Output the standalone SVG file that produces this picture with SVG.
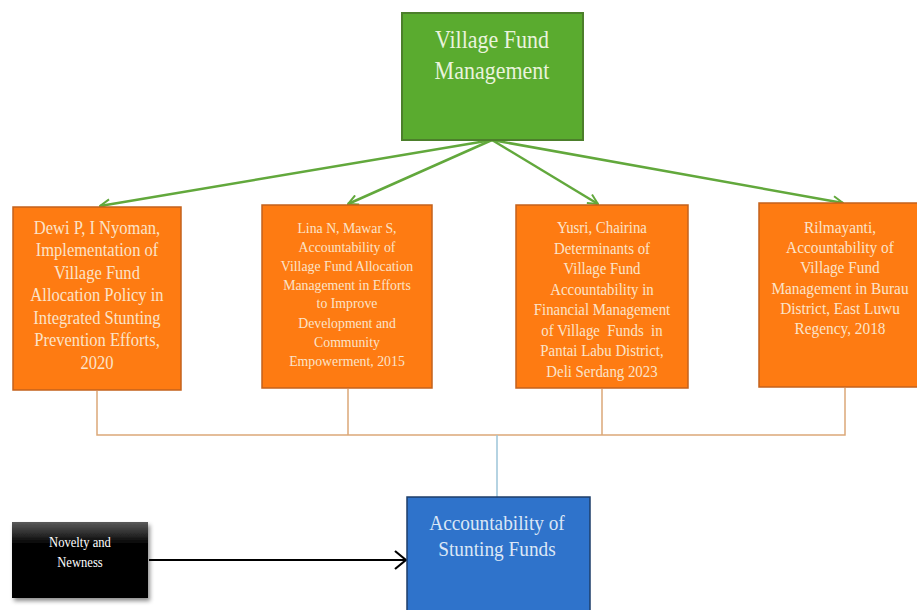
<svg xmlns="http://www.w3.org/2000/svg" width="917" height="610" viewBox="0 0 917 610">
<style>
.t{font-family:"Liberation Serif","Times New Roman",serif;text-anchor:middle}
.ob{fill:#fe7b12;stroke:#c4621c;stroke-width:1.5}
.ot{fill:#fbe3c9}
.g{stroke:#62a83c;stroke-width:2.5;fill:none}
.br{stroke:#dba878;stroke-width:1.5;fill:none}
</style>
<defs>
<marker id="ga" viewBox="0 0 12 12" refX="11" refY="6" markerWidth="12" markerHeight="12" markerUnits="userSpaceOnUse" orient="auto"><path d="M1,1 L11,6 L1,11" fill="none" stroke="#62a83c" stroke-width="2"/></marker>
<marker id="ba" viewBox="0 0 14 20" refX="13" refY="10" markerWidth="14" markerHeight="20" markerUnits="userSpaceOnUse" orient="auto"><path d="M2,1 L13,10 L2,19" fill="none" stroke="#000" stroke-width="2.2"/></marker>
<linearGradient id="bk" x1="0" y1="0" x2="0" y2="1"><stop offset="0" stop-color="#5a5a5a"/><stop offset="0.3" stop-color="#000"/><stop offset="1" stop-color="#000"/></linearGradient>
<filter id="sh" x="-10%" y="-10%" width="130%" height="130%"><feDropShadow dx="2" dy="3" stdDeviation="2" flood-opacity="0.45"/></filter>
</defs>
<rect width="917" height="610" fill="#fff"/>
<g id="connectors">
<line class="g" x1="492" y1="140" x2="100" y2="206" marker-end="url(#ga)"/>
<line class="g" x1="492" y1="140" x2="348" y2="204" marker-end="url(#ga)"/>
<line class="g" x1="492" y1="140" x2="598" y2="204" marker-end="url(#ga)"/>
<line class="g" x1="492" y1="140" x2="843" y2="203" marker-end="url(#ga)"/>
<path class="br" d="M97,391 V435 H845 V388 M348,389 V435 M602,389 V435"/>
<line x1="497" y1="435" x2="497" y2="497" stroke="#9cc4d8" stroke-width="1.5"/>
<line x1="149" y1="560" x2="406" y2="560" stroke="#000" stroke-width="2.2" marker-end="url(#ba)"/>
</g>
<g id="village-fund-management">
<rect x="402" y="13" width="181" height="127" fill="#5aab2f" stroke="#4c7f2b" stroke-width="2"/>
<text class="t" font-size="25" fill="#e9f3dc" transform="matrix(0.88,0,0,1,59.04,0)"><tspan x="492" y="48">Village Fund</tspan><tspan x="492" y="79">Management</tspan></text>
</g>
<g id="dewi">
<rect class="ob" x="13" y="207" width="168" height="183"/>
<text class="t ot" font-size="18" transform="matrix(0.92,0,0,1,7.76,0)"><tspan x="97" y="234">Dewi P, I Nyoman,</tspan><tspan x="97" y="256">Implementation of</tspan><tspan x="97" y="279">Village Fund</tspan><tspan x="97" y="301">Allocation Policy in</tspan><tspan x="97" y="324">Integrated Stunting</tspan><tspan x="97" y="346">Prevention Efforts,</tspan><tspan x="97" y="369">2020</tspan></text>
</g>
<g id="lina">
<rect class="ob" x="262" y="205" width="170" height="183"/>
<text class="t ot" font-size="15.5" transform="matrix(0.89,0,0,1,38.17,0)"><tspan x="347" y="233">Lina N, Mawar S,</tspan><tspan x="347" y="252">Accountability of</tspan><tspan x="347" y="271">Village Fund Allocation</tspan><tspan x="347" y="290">Management in Efforts</tspan><tspan x="347" y="308">to Improve</tspan><tspan x="347" y="328">Development and</tspan><tspan x="347" y="347">Community</tspan><tspan x="347" y="366">Empowerment, 2015</tspan></text>
</g>
<g id="yusri">
<rect class="ob" x="516" y="205" width="172" height="183"/>
<text class="t ot" font-size="16.5" transform="matrix(0.9,0,0,1,60.2,0)" xml:space="preserve"><tspan x="602" y="233">Yusri, Chairina</tspan><tspan x="602" y="254">Determinants of</tspan><tspan x="602" y="274">Village Fund</tspan><tspan x="602" y="295">Accountability in</tspan><tspan x="602" y="315">Financial Management</tspan><tspan x="602" y="336">of Village  Funds  in</tspan><tspan x="602" y="356">Pantai Labu District,</tspan><tspan x="602" y="377">Deli Serdang 2023</tspan></text>
</g>
<g id="rilmayanti">
<rect class="ob" x="759" y="203" width="162" height="184"/>
<text class="t ot" font-size="16.5" transform="matrix(0.93,0,0,1,58.8,0)"><tspan x="840" y="233">Rilmayanti,</tspan><tspan x="840" y="253">Accountability of</tspan><tspan x="840" y="273">Village Fund</tspan><tspan x="840" y="294">Management in Burau</tspan><tspan x="840" y="314">District, East Luwu</tspan><tspan x="840" y="334">Regency, 2018</tspan></text>
</g>
<g id="accountability-stunting">
<rect x="407" y="497" width="183" height="118" fill="#2f73cb" stroke="#1e3e6a" stroke-width="1.5"/>
<text class="t" font-size="21" fill="#dbe7f6" transform="matrix(0.92,0,0,1,39.76,0)"><tspan x="497" y="530">Accountability of</tspan><tspan x="497" y="556">Stunting Funds</tspan></text>
</g>
<g id="novelty">
<rect x="12" y="522" width="136" height="76" fill="url(#bk)" filter="url(#sh)"/>
<text class="t" font-size="14" fill="#fff" transform="matrix(0.9,0,0,1,8,0)"><tspan x="80" y="547">Novelty and</tspan><tspan x="80" y="567">Newness</tspan></text>
</g>
</svg>
